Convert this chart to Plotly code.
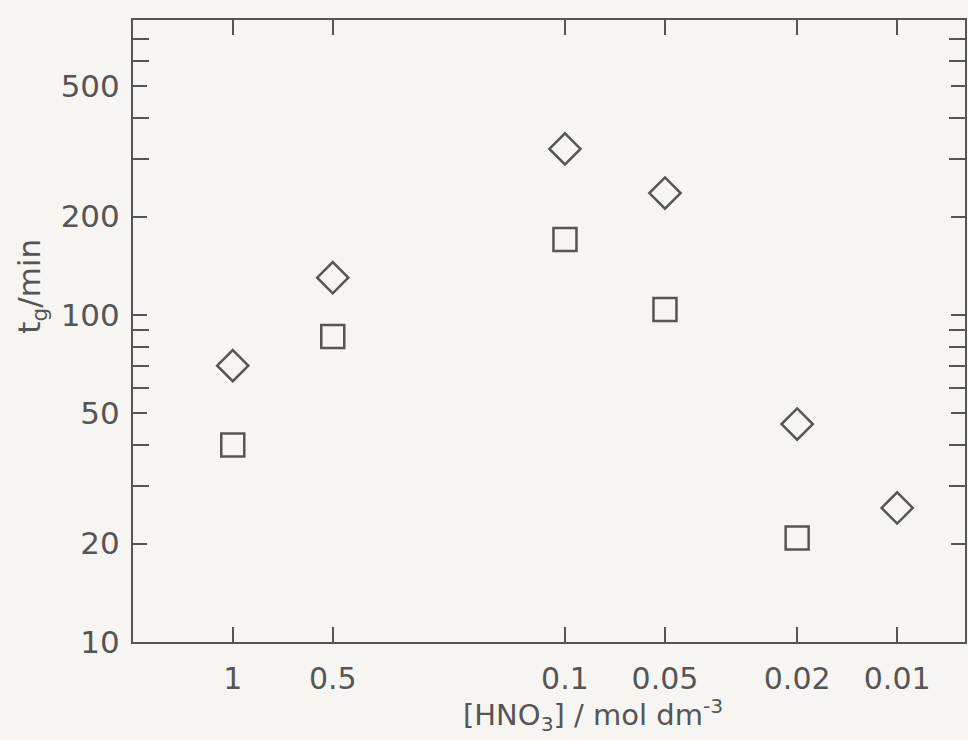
import plotly.graph_objects as go

# ---- data ----
conc = [1, 0.5, 0.1, 0.05, 0.02, 0.01]
tg_diamond = [70, 130, 322, 236, 46.4, 25.7]
conc_sq = [1, 0.5, 0.1, 0.05, 0.02]
tg_square = [40, 86, 170, 104, 20.8]

x_ticks = [1, 0.5, 0.1, 0.05, 0.02, 0.01]
x_ticktext = ["1", "0.5", "0.1", "0.05", "0.02", "0.01"]
x_decades = [1, 0.1, 0.01]
y_ticks = [10, 20, 50, 100, 200, 500]
y_ticktext = ["10", "20", "50", "100", "200", "500"]
y_minor = [30, 40, 60, 70, 80, 90, 300, 400, 600, 700]
y_mid = [50, 500]
y_long = [100]

INK = "#555555"
BG = "#f7f5f2"
FONT = "DejaVu Sans"

XR = [0.3003, -2.2042]
YR = [1.0, 2.902]

fig = go.Figure()
fig.add_trace(go.Scatter(x=conc, y=tg_diamond, mode="markers",
                         marker=dict(symbol="diamond-open", color=INK, size=24,
                                     line=dict(color=INK, width=2.5)),
                         showlegend=False))
fig.add_trace(go.Scatter(x=conc_sq, y=tg_square, mode="markers",
                         marker=dict(symbol="square-open", color=INK, size=23,
                                     line=dict(color=INK, width=2.5)),
                         showlegend=False))

common_axis = dict(type="log", ticks="inside", tickcolor=INK, tickwidth=2,
                   showgrid=False, zeroline=False)

fig.update_layout(
    width=968, height=740,
    margin=dict(l=133, r=1, t=20, b=98),
    paper_bgcolor=BG, plot_bgcolor=BG,
    font=dict(family=FONT, color=INK),
    xaxis=dict(**common_axis, range=XR, tickmode="array", tickvals=x_ticks,
               ticktext=x_ticktext, ticklen=15, showline=True, linecolor=INK,
               linewidth=2, mirror="allticks", tickfont=dict(size=30, color=INK),
               ticklabelstandoff=9),
    xaxis2=dict(**common_axis, range=XR, overlaying="x", anchor="y",
                tickmode="array", tickvals=x_decades, ticklen=24,
                showticklabels=False, showline=False, mirror="allticks"),
    yaxis=dict(**common_axis, range=YR, tickmode="array", tickvals=y_ticks,
               ticktext=y_ticktext, ticklen=14, showline=True, linecolor=INK,
               linewidth=2, mirror="allticks", tickfont=dict(size=31, color=INK),
               ticklabelstandoff=5,
               minor=dict(tickmode="array", tickvals=y_minor, ticks="inside",
                          ticklen=16, tickcolor=INK, tickwidth=2)),
    yaxis2=dict(**common_axis, range=YR, overlaying="y", anchor="x",
                tickmode="array", tickvals=y_mid, ticklen=23,
                showticklabels=False, showline=False, mirror="allticks"),
    yaxis3=dict(**common_axis, range=YR, overlaying="y", anchor="x",
                tickmode="array", tickvals=y_long, ticklen=30,
                showticklabels=False, showline=False, mirror="allticks"),
    annotations=[
        dict(text="[HNO<sub>3</sub>] / mol dm<sup>-3</sup>", xref="paper", yref="paper",
             x=0.553, y=-0.117, xanchor="center", yanchor="middle", showarrow=False,
             font=dict(size=29, color=INK, family=FONT)),
        dict(text="t<sub>g</sub>/min", xref="paper", yref="paper",
             x=-0.122, y=0.572, xanchor="center", yanchor="middle", showarrow=False,
             textangle=-90, font=dict(size=31, color=INK, family=FONT)),
    ],
)

fig.write_html("out.html")
